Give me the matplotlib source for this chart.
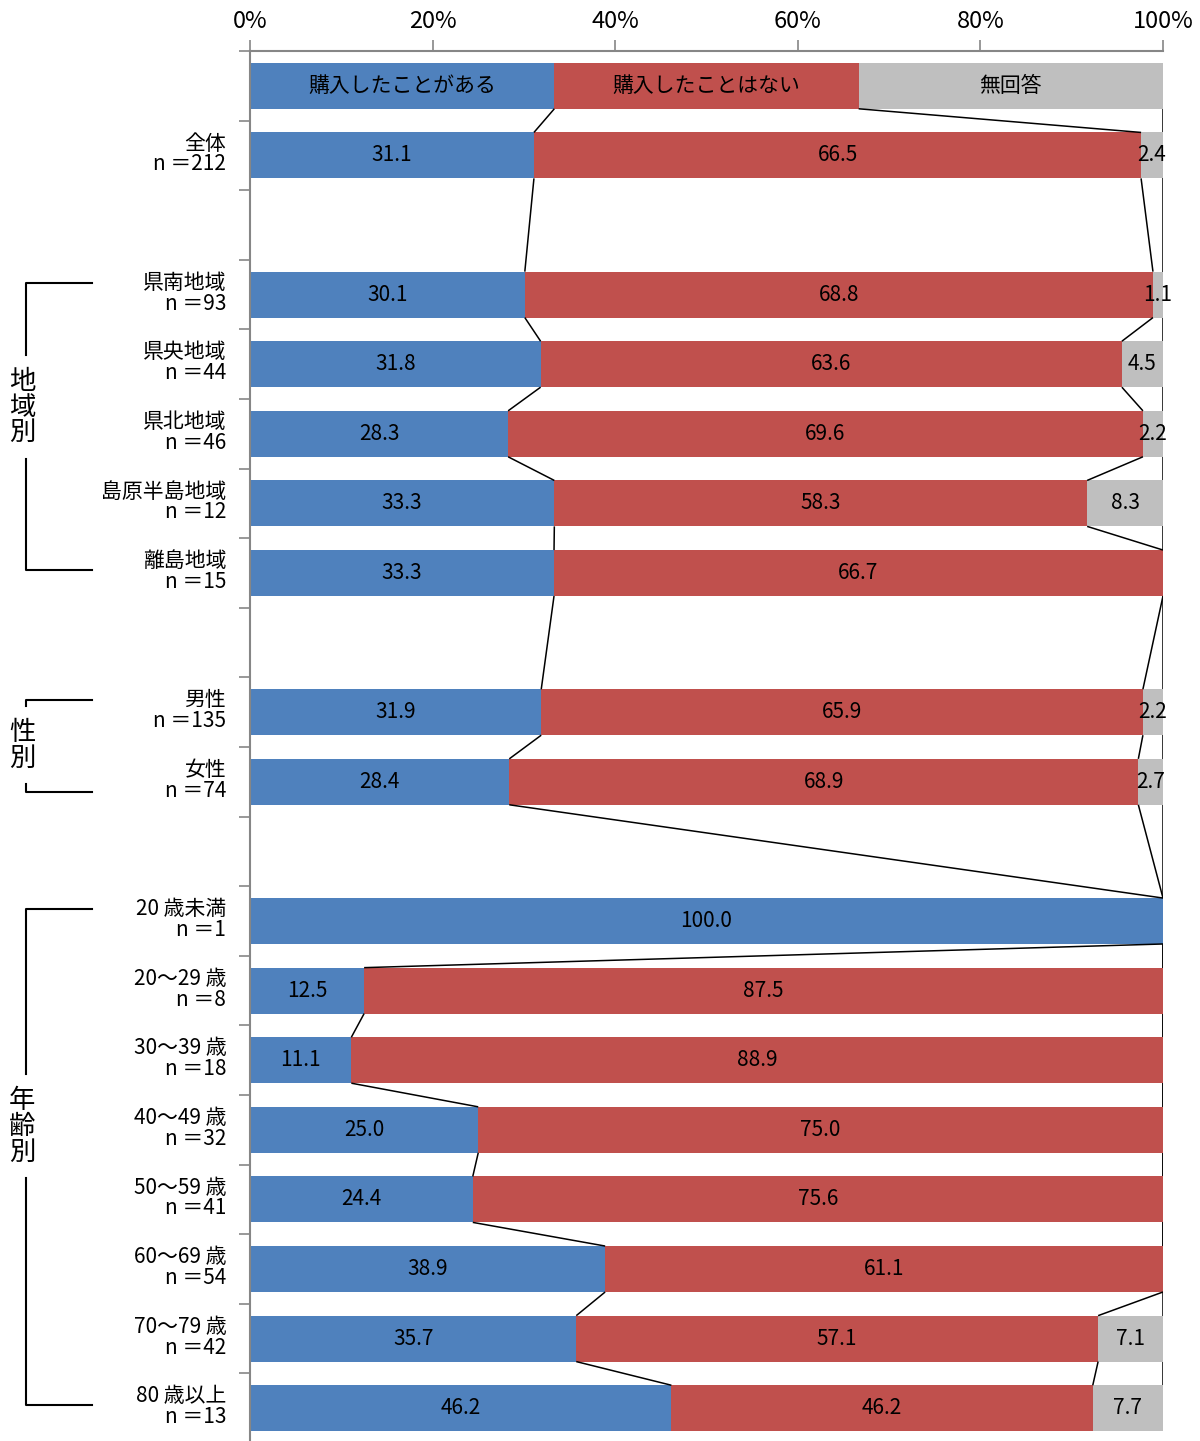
import numpy as np
import matplotlib.pyplot as plt
from matplotlib.transforms import blended_transform_factory

plt.rcParams['font.family'] = ['Noto Sans CJK JP', 'DejaVu Sans']

# ---- data ----
series_names = ["購入したことがある", "購入したことはない", "無回答"]
categories = ["全体",
              "県南地域", "県央地域", "県北地域", "島原半島地域", "離島地域",
              "男性", "女性",
              "20 歳未満", "20～29 歳", "30～39 歳", "40～49 歳",
              "50～59 歳", "60～69 歳", "70～79 歳", "80 歳以上"]
n_counts = [212, 93, 44, 46, 12, 15, 135, 74, 1, 8, 18, 32, 41, 54, 42, 13]
bought = [31.1, 30.1, 31.8, 28.3, 33.3, 33.3, 31.9, 28.4,
          100.0, 12.5, 11.1, 25.0, 24.4, 38.9, 35.7, 46.2]
not_bought = [66.5, 68.8, 63.6, 69.6, 58.3, 66.7, 65.9, 68.9,
              0.0, 87.5, 88.9, 75.0, 75.6, 61.1, 57.1, 46.2]
no_answer = [2.4, 1.1, 4.5, 2.2, 8.3, 0.0, 2.2, 2.7,
             0.0, 0.0, 0.0, 0.0, 0.0, 0.0, 7.1, 7.7]

# section sizes (全体 / 地域別 / 性別 / 年齢別), separated by an empty row
section_sizes = [1, 5, 2, 8]
group_names = [None, "地域別", "性別", "年齢別"]

colors = ["#4F81BD", "#C0504D", "#BFBFBF"]
axis_gray = "#868686"

# ---- row positions ----
positions = []
pos = 1
for size in section_sizes:
    positions.extend(range(pos, pos + size))
    pos += size + 1
n_rows = positions[-1] + 1

values = np.array([bought, not_bought, no_answer]).T
shares = values / values.sum(axis=1, keepdims=True) * 100

bar_h = 0.66

fig = plt.figure(figsize=(12, 14.41), dpi=100)
ax = fig.add_axes([250 / 1200, -0.0014, 913 / 1200, 0.966])

# header bar carrying the series names
header_share = np.full(3, 100 / 3)
left = 0
for k in range(3):
    ax.barh(0, header_share[k], left=left, height=bar_h, color=colors[k])
    ax.text(left + header_share[k] / 2, 0, series_names[k], ha="center",
            va="center", fontsize=15)
    left += header_share[k]

# stacked bars
for i, y in enumerate(positions):
    left = 0
    for k in range(3):
        w = shares[i, k]
        ax.barh(y, w, left=left, height=bar_h, color=colors[k])
        if values[i, k] > 0:
            ax.text(left + w / 2, y, f"{values[i, k]:.1f}", ha="center",
                    va="center", fontsize=15)
        left += w

# series lines between consecutive bars
all_pos = [0] + positions
all_cum = np.vstack([np.cumsum(header_share), np.cumsum(shares, axis=1)])
for a in range(len(all_pos) - 1):
    for k in range(3):
        ax.plot([all_cum[a, k], all_cum[a + 1, k]],
                [all_pos[a] + bar_h / 2, all_pos[a + 1] - bar_h / 2],
                color="black", lw=1.1, zorder=1, solid_capstyle="butt")

ax.set_xlim(0, 100)
ax.set_ylim(n_rows - 0.5, -0.5)

ax.xaxis.tick_top()
ax.set_xticks(np.arange(0, 101, 20))
ax.set_xticklabels([f"{t}%" for t in range(0, 101, 20)], fontsize=17)
ax.tick_params(axis="x", direction="out", length=8, width=1.2,
               color=axis_gray, pad=5)
ax.set_yticks(np.arange(-0.5, n_rows, 1))
ax.set_yticklabels([])
ax.tick_params(axis="y", direction="out", length=8, width=1.2, color=axis_gray)
for side in ["right", "bottom"]:
    ax.spines[side].set_visible(False)
for side in ["top", "left"]:
    ax.spines[side].set_color(axis_gray)
    ax.spines[side].set_linewidth(1.5)

# category labels (name + sample size)
trans = blended_transform_factory(ax.transAxes, ax.transData)
for i, y in enumerate(positions):
    ax.text(-0.026, y - 0.17, categories[i], transform=trans, ha="right",
            va="center", fontsize=15)
    ax.text(-0.026, y + 0.13, f"n ＝{n_counts[i]}", transform=trans,
            ha="right", va="center", fontsize=15)

# group brackets with vertical titles
x_line = (26 - 250) / 913
x_end = (92 - 250) / 913
x_text = (22 - 250) / 913
char_step = 0.37
start = 0
for size, name in zip(section_sizes, group_names):
    rows = positions[start:start + size]
    start += size
    if name is None:
        continue
    top = rows[0] - 0.17
    bottom = rows[-1] + (0.14 if size == 2 else -0.05)
    mid = (top + bottom) / 2 - 0.055 * size + (0.1 if size == 2 else 0)
    gap = len(name) * char_step / 2 + 0.19
    kw = dict(transform=trans, color="black", lw=1.5, clip_on=False)
    ax.plot([x_end, x_line, x_line], [top, top, mid - gap], **kw)
    ax.plot([x_line, x_line, x_end], [mid + gap, bottom, bottom], **kw)
    for j, ch in enumerate(name):
        yc = mid + (j - (len(name) - 1) / 2) * char_step
        ax.text(x_text, yc, ch, transform=trans, ha="center", va="center",
                fontsize=19)

fig.savefig("out.png", dpi=100)
